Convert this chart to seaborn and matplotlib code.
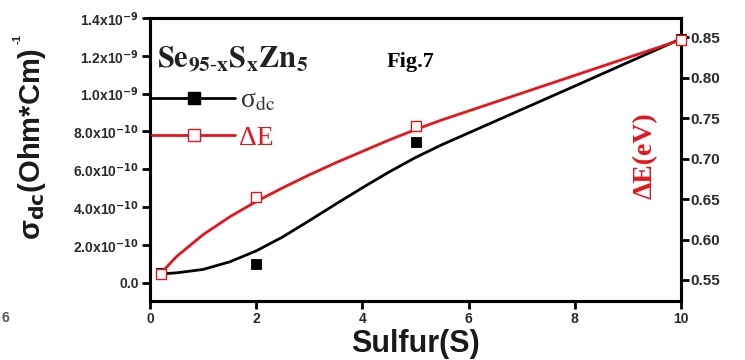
import matplotlib
matplotlib.use("Agg")
import matplotlib.pyplot as plt
import seaborn as sns
from matplotlib.lines import Line2D
from matplotlib.font_manager import FontProperties

# ---- data ----
sulfur = [0.2, 2, 5, 10]
sigma_dc = [0.52e-10, 0.98e-10, 7.45e-10, 1.29e-9]
delta_E = [0.558, 0.653, 0.741, 0.847]

fit_sulfur = [0.2, 0.5, 1, 1.5, 2, 2.5, 3, 3.5, 4, 4.5, 5, 5.5, 6, 7, 8, 9, 10]
sigma_fit = [0.46e-10, 0.52e-10, 0.70e-10, 1.10e-10, 1.68e-10, 2.42e-10, 3.28e-10,
             4.16e-10, 5.02e-10, 5.85e-10, 6.62e-10, 7.30e-10, 7.92e-10, 9.16e-10,
             10.40e-10, 11.65e-10, 12.90e-10]
dE_fit = [0.558, 0.579, 0.606, 0.628, 0.647, 0.664, 0.680, 0.695, 0.709, 0.723,
          0.736, 0.748, 0.759, 0.781, 0.803, 0.825, 0.847]

x_ticks = [0, 2, 4, 6, 8, 10]
left_ticks = [0, 2e-10, 4e-10, 6e-10, 8e-10, 1.0e-9, 1.2e-9, 1.4e-9]
left_ticklabels = ["0.0",
                   r"2.0x10$^{\mathbf{-10}}$", r"4.0x10$^{\mathbf{-10}}$",
                   r"6.0x10$^{\mathbf{-10}}$", r"8.0x10$^{\mathbf{-10}}$",
                   r"1.0x10$^{\mathbf{-9}}$", r"1.2x10$^{\mathbf{-9}}$",
                   r"1.4x10$^{\mathbf{-9}}$"]
right_ticks = [0.55, 0.60, 0.65, 0.70, 0.75, 0.80, 0.85]
right_ticklabels = ["0.55", "0.60", "0.65", "0.70", "0.75", "0.80", "0.85"]

RED = "#e8141c"
TICKC = "#2a2a2a"

sns.set_theme(style="ticks")
plt.rcParams["font.family"] = ["Liberation Sans", "DejaVu Sans"]

fig = plt.figure(figsize=(7.45, 3.6), dpi=100)
ax = fig.add_axes([150 / 745, 1 - 301 / 360, 531 / 745, 283 / 360])
ax2 = ax.twinx()

sns.lineplot(x=fit_sulfur, y=sigma_fit, ax=ax, color="black", lw=2.0)
sns.scatterplot(x=sulfur, y=sigma_dc, ax=ax, marker="s", color="black",
                edgecolor="black", s=60, zorder=3, clip_on=False)
sns.lineplot(x=fit_sulfur, y=dE_fit, ax=ax2, color=RED, lw=2.0)
sns.scatterplot(x=sulfur, y=delta_E, ax=ax2, marker="s", color="white",
                edgecolor=RED, linewidth=1.0, s=60, zorder=3, clip_on=False)

ax.set_xlim(0, 10)
ax.set_ylim(-0.97e-10, 1.4e-9)
ax2.set_ylim(0.524, 0.874)

ax.set_xticks(x_ticks, [str(t) for t in x_ticks], fontsize=10, fontweight="bold",
              color=TICKC)
ax.set_yticks(left_ticks, left_ticklabels, fontsize=10, fontweight="bold",
              color=TICKC, math_fontfamily="dejavusans")
ax2.set_yticks(right_ticks, right_ticklabels, fontsize=11, fontweight="bold",
               color=TICKC)

for a in (ax, ax2):
    for sp in a.spines.values():
        sp.set_linewidth(2.2)
        sp.set_color("black")
ax.tick_params(axis="x", which="major", bottom=True, top=False, direction="out",
               length=6, width=2, pad=2, color="black")
ax.tick_params(axis="y", which="major", left=True, right=False, direction="out",
               length=6, width=2, pad=2, color="black")
ax2.tick_params(axis="y", which="major", right=True, left=False, direction="out",
                length=6, width=2, pad=1, color="black")

ax.set_xlabel("Sulfur(S)", fontsize=22, fontweight="bold", color="#1a1a1a")
ax.xaxis.set_label_coords(0.5, -0.152)
ax.xaxis.label.set_va("center")

ax.set_ylabel(r"σ$_{\mathbf{dc}}$(Ohm*Cm)", fontsize=21,
              fontweight="bold", color="#1a1a1a", math_fontfamily="dejavusans")
ax.yaxis.set_label_coords(-0.222, 0.555)
ax.yaxis.label.set_va("center")
fig.text(18 / 745, 1 - 39 / 360, "-1", rotation=90, fontsize=8, fontweight="bold",
         color="#1a1a1a", ha="center", va="center")

ax2.set_ylabel("ΔE(eV)", fontsize=20, fontweight="bold", color=RED,
               family="Liberation Serif")
ax2.yaxis.set_label_coords(0.932, 0.512)
ax2.yaxis.label.set_va("center")

# annotations
fig.text(157 / 745, 1 - 67 / 360, r"$\mathbf{Se_{95\text{-}x}S_xZn_5}$", fontsize=22,
         math_fontfamily="stix", color="#222222", va="baseline")
fig.text(387 / 745, 1 - 67 / 360, "Fig.7", family="Liberation Serif",
         fontweight="bold", fontsize=16, va="baseline", color="black")
fig.text(2 / 745, 1 - 318 / 360, "6", fontsize=10, fontweight="bold",
         color="#555555", va="center")

handles = [
    Line2D([0], [0], color="black", lw=2, marker="s", markersize=8,
           markerfacecolor="black", markeredgecolor="black"),
    Line2D([0], [0], color=RED, lw=2, marker="s", markersize=8,
           markerfacecolor="white", markeredgecolor=RED),
]
labels = [r"σ$_{\mathrm{dc}}$", "ΔE"]
leg = ax2.legend(handles, labels, loc="upper left",
                 bbox_to_anchor=(152 / 745, 1 - 88 / 360),
                 bbox_transform=fig.transFigure, frameon=False,
                 handlelength=3.0, handletextpad=0.15, borderpad=0,
                 borderaxespad=0, labelspacing=0.42,
                 prop=FontProperties(family="Liberation Serif", size=20,
                                     math_fontfamily="stix"))
leg.get_texts()[0].set_color("#333333")
leg.get_texts()[1].set_color(RED)

fig.savefig("out.png", dpi=100)
